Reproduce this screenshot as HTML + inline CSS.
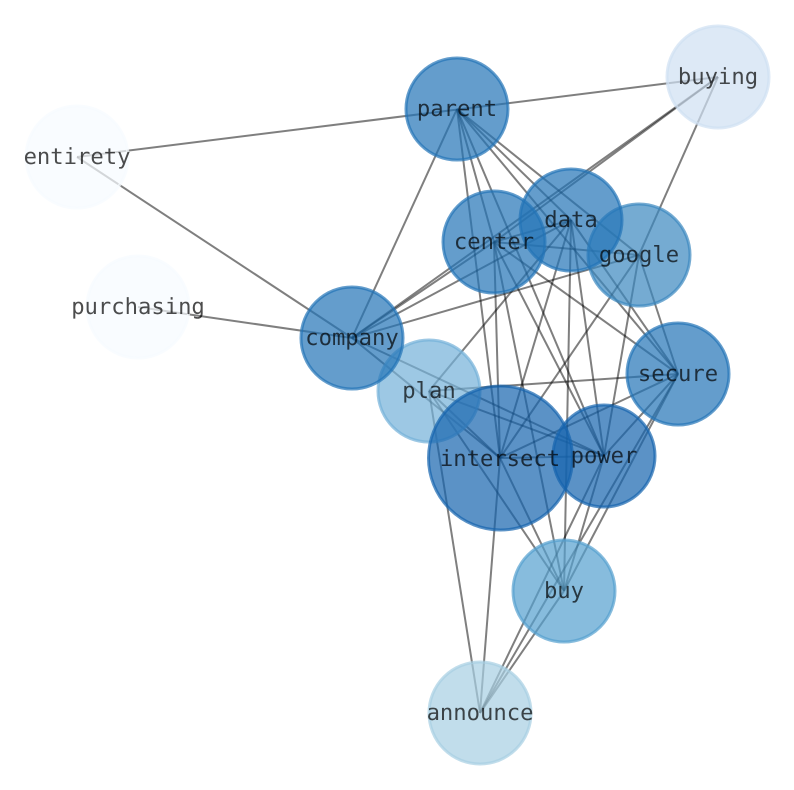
<!DOCTYPE html>
<html><head><meta charset="utf-8"><style>
html,body{margin:0;padding:0;background:#fff}
svg{display:block}
text{font-family:"DejaVu Sans Mono","Liberation Mono",monospace;font-size:22.2px;text-anchor:middle;fill:#000;fill-opacity:.7;text-rendering:geometricPrecision}
line{stroke:#000;stroke-opacity:.5;stroke-width:2}
circle{stroke-width:3;fill-opacity:.7;stroke-opacity:.7}
</style></head><body>
<svg width="794" height="790" viewBox="0 0 794 790" xmlns="http://www.w3.org/2000/svg">
<g>
<line x1="718" y1="77" x2="77" y2="157"/>
<line x1="77" y1="157" x2="352" y2="338"/>
<line x1="138" y1="307" x2="352" y2="338"/>
<line x1="352" y1="338" x2="457" y2="109"/>
<line x1="352" y1="338" x2="718" y2="77"/>
<line x1="352" y1="338" x2="494" y2="242"/>
<line x1="352" y1="338" x2="571" y2="220"/>
<line x1="352" y1="338" x2="639" y2="255"/>
<line x1="352" y1="338" x2="500" y2="458"/>
<line x1="352" y1="338" x2="604" y2="456"/>
<line x1="718" y1="77" x2="494" y2="242"/>
<line x1="718" y1="77" x2="639" y2="255"/>
<line x1="457" y1="109" x2="500" y2="458"/>
<line x1="457" y1="109" x2="604" y2="456"/>
<line x1="457" y1="109" x2="678" y2="374"/>
<line x1="457" y1="109" x2="639" y2="255"/>
<line x1="457" y1="109" x2="494" y2="242"/>
<line x1="457" y1="109" x2="571" y2="220"/>
<line x1="494" y1="242" x2="571" y2="220"/>
<line x1="494" y1="242" x2="639" y2="255"/>
<line x1="494" y1="242" x2="500" y2="458"/>
<line x1="494" y1="242" x2="604" y2="456"/>
<line x1="494" y1="242" x2="678" y2="374"/>
<line x1="494" y1="242" x2="564" y2="591"/>
<line x1="571" y1="220" x2="678" y2="374"/>
<line x1="571" y1="220" x2="604" y2="456"/>
<line x1="571" y1="220" x2="500" y2="458"/>
<line x1="571" y1="220" x2="564" y2="591"/>
<line x1="571" y1="220" x2="429" y2="391"/>
<line x1="639" y1="255" x2="678" y2="374"/>
<line x1="639" y1="255" x2="604" y2="456"/>
<line x1="639" y1="255" x2="500" y2="458"/>
<line x1="678" y1="374" x2="429" y2="391"/>
<line x1="678" y1="374" x2="500" y2="458"/>
<line x1="678" y1="374" x2="604" y2="456"/>
<line x1="678" y1="374" x2="564" y2="591"/>
<line x1="678" y1="374" x2="480" y2="713"/>
<line x1="429" y1="391" x2="500" y2="458"/>
<line x1="429" y1="391" x2="604" y2="456"/>
<line x1="429" y1="391" x2="564" y2="591"/>
<line x1="429" y1="391" x2="480" y2="713"/>
<line x1="500" y1="458" x2="604" y2="456"/>
<line x1="500" y1="458" x2="564" y2="591"/>
<line x1="500" y1="458" x2="480" y2="713"/>
<line x1="604" y1="456" x2="564" y2="591"/>
<line x1="604" y1="456" x2="480" y2="713"/>
<line x1="564" y1="591" x2="480" y2="713"/>
</g>
<g>
<circle cx="77" cy="157" r="51" fill="#f7fbff" stroke="#f7fbff"/>
<circle cx="138" cy="307" r="51" fill="#f7fbff" stroke="#f7fbff"/>
<circle cx="718" cy="77" r="51" fill="#cfe0f2" stroke="#cfe0f2"/>
<circle cx="480" cy="713" r="51" fill="#a6cee3" stroke="#a6cee3"/>
<circle cx="429" cy="391" r="51" fill="#74b0d8" stroke="#74b0d8"/>
<circle cx="564" cy="591" r="51" fill="#549fce" stroke="#549fce"/>
<circle cx="639" cy="255" r="51" fill="#3a87bf" stroke="#3a87bf"/>
<circle cx="457" cy="109" r="51" fill="#2273b7" stroke="#2273b7"/>
<circle cx="352" cy="338" r="51" fill="#2273b7" stroke="#2273b7"/>
<circle cx="494" cy="242" r="51" fill="#2273b7" stroke="#2273b7"/>
<circle cx="571" cy="220" r="51" fill="#2273b7" stroke="#2273b7"/>
<circle cx="678" cy="374" r="51" fill="#2273b7" stroke="#2273b7"/>
<circle cx="604" cy="456" r="51" fill="#1664ae" stroke="#1664ae"/>
<circle cx="500.5" cy="458" r="72" fill="#1664ae" stroke="#1664ae"/>
</g>
<g>
<text x="77" y="164">entirety</text>
<text x="138" y="314">purchasing</text>
<text x="718" y="84">buying</text>
<text x="480" y="720">announce</text>
<text x="429" y="398">plan</text>
<text x="564" y="598">buy</text>
<text x="639" y="262">google</text>
<text x="457" y="116">parent</text>
<text x="352" y="345">company</text>
<text x="494" y="249">center</text>
<text x="571" y="227">data</text>
<text x="678" y="381">secure</text>
<text x="604" y="463">power</text>
<text x="500" y="466">intersect</text>
</g>
</svg>
</body></html>
